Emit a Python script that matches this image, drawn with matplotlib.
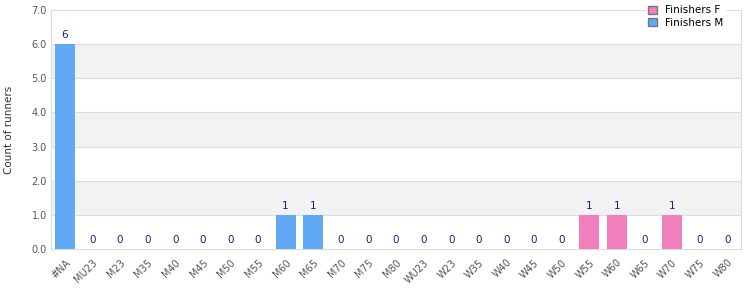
import numpy as np
import matplotlib
matplotlib.use('Agg')
import matplotlib.pyplot as plt
from matplotlib.patches import Patch

categories = ['#NA', 'MU23', 'M23', 'M35', 'M40', 'M45', 'M50', 'M55', 'M60', 'M65',
              'M70', 'M75', 'M80', 'WU23', 'W23', 'W35', 'W40', 'W45', 'W50', 'W55',
              'W60', 'W65', 'W70', 'W75', 'W80']
finishers_m = [6, 0, 0, 0, 0, 0, 0, 0, 1, 1, 0, 0, 0, 0, 0, 0, 0, 0, 0, 0, 0, 0, 0, 0, 0]
finishers_f = [0, 0, 0, 0, 0, 0, 0, 0, 0, 0, 0, 0, 0, 0, 0, 0, 0, 0, 0, 1, 1, 0, 1, 0, 0]

blue = '#62a9f5'
pink = '#f07fbb'
grid = '#dddddd'

fig = plt.figure(figsize=(7.5, 3), dpi=100)
ax = fig.add_axes([0.068, 0.17, 0.92, 0.797])

x = np.arange(len(categories))
m = np.array(finishers_m)
f = np.array(finishers_f)
ax.bar(x, m, width=0.72, color=blue, zorder=3)
ax.bar(x, f, width=0.72, bottom=m, color=pink, zorder=3)

totals = m + f
for xi, t in zip(x, totals):
    ax.text(xi, t + 0.12, str(t), ha='center', va='bottom', fontsize=7.5, color='#1a1a8c', zorder=4)

# alternating bands
for lo in [1, 3, 5]:
    ax.axhspan(lo, lo + 1, color='#f2f2f2', zorder=0, lw=0)
for yv in range(1, 7):
    ax.axhline(yv, color=grid, lw=0.8, zorder=1)

ax.set_ylim(0, 7)
ax.set_xlim(-0.5, len(categories) - 0.5)
ax.set_yticks(range(8))
ax.set_yticklabels([f'{v:.1f}' for v in range(8)])
ax.set_xticks(x)
ax.set_xticklabels(categories, rotation=45, ha='right', rotation_mode='anchor')
ax.tick_params(axis='both', length=0, labelsize=7, colors='#555555', pad=3)
ax.tick_params(axis='x', pad=6)
for s in ax.spines.values():
    s.set_color(grid)
ax.set_ylabel('Count of runners', fontsize=7.5, color='#333333')
ax.yaxis.set_label_coords(-0.054, 0.5)

handles = [Patch(facecolor=pink, edgecolor='#777777', label='Finishers F'),
           Patch(facecolor=blue, edgecolor='#777777', label='Finishers M')]
leg = ax.legend(handles=handles, loc='upper right', bbox_to_anchor=(0.985, 1.05),
                fontsize=7.5, frameon=True, fancybox=False, framealpha=1,
                edgecolor='white', handlelength=0.8, handleheight=0.8,
                borderpad=0.2, labelspacing=0.25, handletextpad=0.8)
leg.set_zorder(5)

fig.savefig('out.png')
